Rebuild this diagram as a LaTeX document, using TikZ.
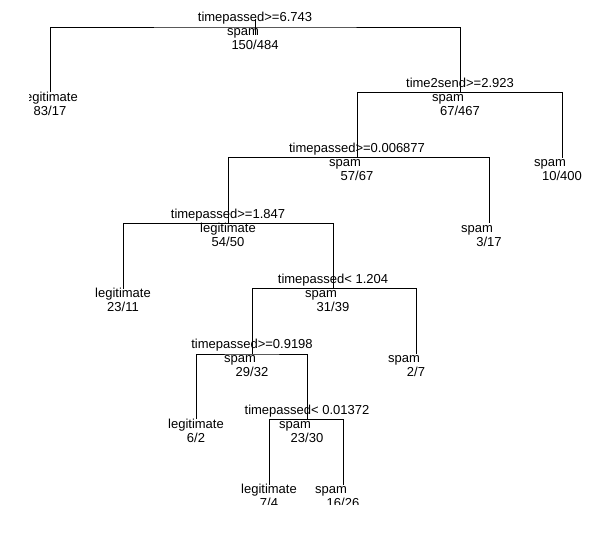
\documentclass[tikz,border=0pt]{standalone}
\usepackage{fontspec}
\setmainfont{Liberation Sans}
\newlength\clslw
\begin{document}
\fontsize{13}{15}\selectfont
\settowidth{\clslw}{legitimate}
\begin{tikzpicture}[x=1pt,y=-1pt,
  every node/.style={font=\fontsize{13}{15}\selectfont, inner sep=0pt, anchor=base, text=black},
  edge/.style={draw=black, line width=0.9pt},
  splitlbl/.style={yshift=5pt},
  clslbl/.style={yshift=-9pt},
  cntlbl/.style={yshift=-23pt}]
\useasboundingbox (0,0) rectangle (606,537);
\clip (29,0) rectangle (606,505);
% node positions
\coordinate (r) at (255,27);
\coordinate (a) at (50,92.4);
\coordinate (b) at (460,92.4);
\coordinate (c) at (357,157.8);
\coordinate (d) at (562,157.8);
\coordinate (e) at (228,223.2);
\coordinate (f) at (489,223.2);
\coordinate (g) at (123,288.6);
\coordinate (h) at (333,288.6);
\coordinate (i) at (252,354);
\coordinate (j) at (416,354);
\coordinate (k) at (196,419.4);
\coordinate (l) at (307,419.4);
\coordinate (m) at (269,484.8);
\coordinate (n) at (343,484.8);
\coordinate (rs1) at (255,19);
\coordinate (rs2) at (255,35);
% connectors
\draw[edge] (rs1) -- (rs2);
\draw[edge] (a) |- (r) -| (b);
\draw[edge] (c) |- (b) -| (d);
\draw[edge] (e) |- (c) -| (f);
\draw[edge] (g) |- (e) -| (h);
\draw[edge] (i) |- (h) -| (j);
\draw[edge] (k) |- (i) -| (l);
\draw[edge] (m) |- (l) -| (n);
% labels
\newcommand\tlabel[4]{%
  \node[splitlbl] (#1s) at (#1) {#2};
  \node[clslbl] (#1c) at (#1) {\makebox[\clslw][l]{#3}};
  \node[cntlbl] (#1n) at (#1) {#4};}
\newcommand\tleaf[3]{%
  \node[clslbl] (#1c) at (#1) {\makebox[\clslw][l]{#2}};
  \node[cntlbl] (#1n) at (#1) {#3};}
\tlabel{r}{timepassed>=6.743}{spam}{150/484}
\tleaf{a}{legitimate}{83/17}
\tlabel{b}{time2send>=2.923}{spam}{67/467}
\tlabel{c}{timepassed>=0.006877}{spam}{57/67}
\tleaf{d}{spam}{10/400}
\tlabel{e}{timepassed>=1.847}{legitimate}{54/50}
\tleaf{f}{spam}{3/17}
\tleaf{g}{legitimate}{23/11}
\tlabel{h}{timepassed< 1.204}{spam}{31/39}
\tlabel{i}{timepassed>=0.9198}{spam}{29/32}
\tleaf{j}{spam}{2/7}
\tleaf{k}{legitimate}{6/2}
\tlabel{l}{timepassed< 0.01372}{spam}{23/30}
\tleaf{m}{legitimate}{7/4}
\tleaf{n}{spam}{16/26}
\end{tikzpicture}
\end{document}
